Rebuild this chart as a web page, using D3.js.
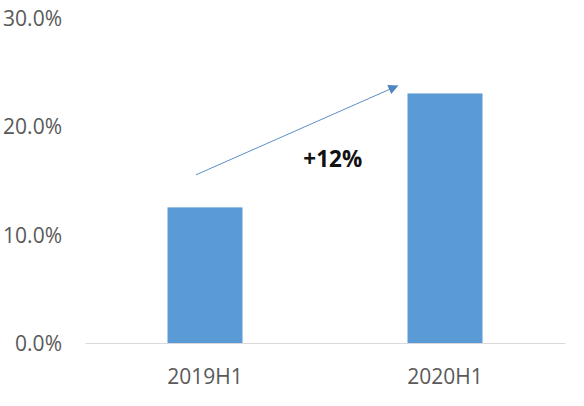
<!DOCTYPE html>
<html><head><meta charset="utf-8">
<script src="https://cdn.jsdelivr.net/npm/d3@7"></script>
<style>body{margin:0;background:#fff}</style>
</head><body>
<svg id="c" width="584" height="406"></svg>
<script>
const categories = ["2019H1", "2020H1"];
const values = [0.125, 0.230];
const yTicks = [0, 0.1, 0.2, 0.3];
const annotationText = "+12%";
const arrowFrom = 0.155, arrowTo = 0.237;

const svg = d3.select("#c");
const W = 584, H = 406;
const m = {left: 85, right: 19, top: 17.5, bottom: 63};
const x = d3.scaleBand().domain(categories).range([m.left, W - m.right])
  .paddingInner(0.6875).paddingOuter(0.34375);
const y = d3.scaleLinear().domain([0, 0.3]).range([H - m.bottom, m.top]);
const font = "'Open Sans', 'Noto Sans', sans-serif";

// y axis labels
const yAxis = d3.axisLeft(y).tickValues(yTicks).tickFormat(d3.format(".1%")).tickSize(0).tickPadding(23);
const gy = svg.append("g").attr("transform", `translate(${m.left},0)`).call(yAxis);
gy.select(".domain").remove();
gy.selectAll("text").attr("font-family", font).attr("font-size", 21).attr("fill", "#595959").attr("dy", "0.36em");

// bars
svg.append("g").selectAll("rect").data(values).join("rect")
  .attr("x", (d, i) => x(categories[i]))
  .attr("y", d => y(d))
  .attr("width", x.bandwidth())
  .attr("height", d => y(0) - y(d))
  .attr("fill", "#5b9bd5");

// x axis
const xAxis = d3.axisBottom(x).tickSize(0).tickPadding(26);
const gx = svg.append("g").attr("transform", `translate(0,${y(0)})`).call(xAxis);
gx.select(".domain").attr("stroke", "#d9d9d9").attr("stroke-width", 1);
gx.selectAll("text").attr("font-family", font).attr("font-size", 21).attr("fill", "#595959");

// arrow annotation
const defs = svg.append("defs");
defs.append("marker").attr("id", "ah").attr("viewBox", "0 0 10 10")
  .attr("refX", 9).attr("refY", 5).attr("markerWidth", 14).attr("markerHeight", 10)
  .attr("markerUnits", "userSpaceOnUse").attr("orient", "auto")
  .append("path").attr("d", "M0,0L10,5L0,10Z").attr("fill", "#4f86c0");
const x1 = x(categories[0]) + x.bandwidth() / 2 - 9;
const x2 = x(categories[1]) - 10;
svg.append("line")
  .attr("x1", x1).attr("y1", y(arrowFrom))
  .attr("x2", x2).attr("y2", y(arrowTo))
  .attr("stroke", "#5b8fc7").attr("stroke-width", 1)
  .attr("marker-end", "url(#ah)");

svg.append("text").attr("x", (x1 + x2) / 2 + 36).attr("y", y(0.162))
  .attr("text-anchor", "middle").attr("font-family", font).attr("font-weight", "bold")
  .attr("font-size", 22.5).attr("fill", "#111").text(annotationText);
</script>
</body></html>
